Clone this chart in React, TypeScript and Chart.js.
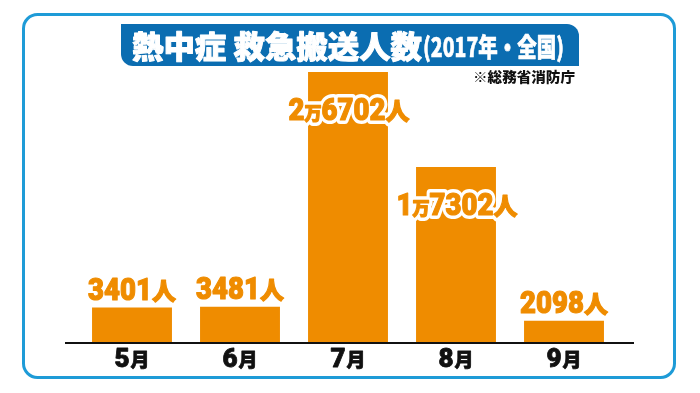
import React, { useEffect, useRef } from "react";
import { Chart, registerables } from "chart.js";

Chart.register(...registerables);

const months = ["5月", "6月", "7月", "8月", "9月"];
const patients = [3401, 3481, 26702, 17302, 2098];
const titleMain = "熱中症 救急搬送人数";
const titleSub = "(2017年・全国)";
const sourceNote = "※総務省消防庁";
const yMax = 27700;

const ORANGE = "#EF8C00";
const BANNER = "#0B6DB1";
const BORDER = "#1E9BD7";
const JP = '"Noto Sans CJK JP", "Noto Sans", sans-serif';
const NUM = 'Roboto, "Noto Sans", sans-serif';

function roundRectPath(ctx: CanvasRenderingContext2D, x: number, y: number, w: number, h: number, r: [number, number, number, number]) {
  const [tl, tr, br, bl] = r;
  ctx.beginPath();
  ctx.moveTo(x + tl, y);
  ctx.lineTo(x + w - tr, y);
  ctx.arcTo(x + w, y, x + w, y + tr, tr);
  ctx.lineTo(x + w, y + h - br);
  ctx.arcTo(x + w, y + h, x + w - br, y + h, br);
  ctx.lineTo(x + bl, y + h);
  ctx.arcTo(x, y + h, x, y + h - bl, bl);
  ctx.lineTo(x, y + tl);
  ctx.arcTo(x, y, x + tl, y, tl);
  ctx.closePath();
}

type Part = { text: string; font: string; sx: number };

function drawParts(ctx: CanvasRenderingContext2D, parts: Part[], cx: number, baseline: number, fill: string, stroke?: string, strokeW = 0, heavy = 0) {
  const widths = parts.map((p) => {
    ctx.font = p.font;
    return ctx.measureText(p.text).width * p.sx;
  });
  const total = widths.reduce((a, b) => a + b, 0);
  let x = cx - total / 2;
  ctx.textBaseline = "alphabetic";
  ctx.textAlign = "left";
  const passes: Array<"stroke" | "fill"> = stroke ? ["stroke", "fill"] : ["fill"];
  for (const pass of passes) {
    x = cx - total / 2;
    parts.forEach((p, i) => {
      ctx.save();
      ctx.font = p.font;
      ctx.translate(x, baseline);
      ctx.scale(p.sx, 1);
      ctx.lineJoin = "round";
      if (pass === "stroke" && stroke) {
        ctx.strokeStyle = stroke;
        ctx.lineWidth = strokeW + heavy;
        ctx.strokeText(p.text, 0, 0);
      } else {
        ctx.fillStyle = fill;
        ctx.fillText(p.text, 0, 0);
        if (heavy > 0) {
          ctx.strokeStyle = fill;
          ctx.lineWidth = heavy;
          ctx.strokeText(p.text, 0, 0);
        }
      }
      ctx.restore();
      x += widths[i];
    });
  }
}

function valueParts(v: number): Part[] {
  const digitFont = `900 32px ${NUM}`;
  const parts: Part[] = [];
  const man = Math.floor(v / 10000);
  const rest = v % 10000;
  if (man > 0) {
    parts.push({ text: String(man), font: digitFont, sx: 0.86 });
    parts.push({ text: "万", font: `900 18px ${JP}`, sx: 0.95 });
    parts.push({ text: String(rest).padStart(4, "0"), font: digitFont, sx: 0.86 });
  } else {
    parts.push({ text: String(rest), font: digitFont, sx: 0.86 });
  }
  parts.push({ text: "人", font: `900 24px ${JP}`, sx: 1.0 });
  return parts;
}

function fitText(ctx: CanvasRenderingContext2D, text: string, font: string, x: number, y: number, width: number, color: string, heavy = 0) {
  ctx.save();
  ctx.font = font;
  const w = ctx.measureText(text).width;
  const s = width / w;
  ctx.translate(x, y);
  ctx.scale(s, 1);
  ctx.fillStyle = color;
  ctx.textAlign = "left";
  ctx.textBaseline = "middle";
  ctx.fillText(text, 0, 0);
  if (heavy > 0) {
    ctx.strokeStyle = color;
    ctx.lineWidth = heavy;
    ctx.lineJoin = "round";
    ctx.strokeText(text, 0, 0);
  }
  ctx.restore();
}

const decorPlugin = {
  id: "decor",
  beforeDraw(chart: any) {
    const ctx: CanvasRenderingContext2D = chart.ctx;
    ctx.save();
    ctx.fillStyle = "#ffffff";
    ctx.fillRect(0, 0, chart.width, chart.height);
    // outer border
    roundRectPath(ctx, 23.5, 14.5, 651, 363, [14, 14, 14, 14]);
    ctx.strokeStyle = BORDER;
    ctx.lineWidth = 3;
    ctx.stroke();
    // title banner
    roundRectPath(ctx, 121, 24, 458, 42, [0, 12, 0, 12]);
    ctx.fillStyle = BANNER;
    ctx.fill();
    fitText(ctx, titleMain, `900 31px ${JP}`, 132, 46, 290, "#ffffff", 1);
    fitText(ctx, titleSub, `900 26px ${JP}`, 423, 47, 141, "#ffffff", 0.6);
    fitText(ctx, sourceNote, `900 14px ${JP}`, 473, 77, 102, "#111111");
    ctx.restore();
  },
  afterDatasetsDraw(chart: any) {
    const ctx: CanvasRenderingContext2D = chart.ctx;
    const area = chart.chartArea;
    ctx.save();
    // axis line
    ctx.strokeStyle = "#111111";
    ctx.lineWidth = 2;
    ctx.beginPath();
    ctx.moveTo(65, area.bottom + 1);
    ctx.lineTo(634, area.bottom + 1);
    ctx.stroke();

    const meta = chart.getDatasetMeta(0);
    const xScale = chart.scales.x;
    meta.data.forEach((bar: any, i: number) => {
      const v = patients[i];
      const top = bar.y;
      const h = bar.base - bar.y;
      const parts = valueParts(v);
      if (h > 100) {
        drawParts(ctx, parts, bar.x + 1, top + 48, ORANGE, "#ffffff", 7, 1.2);
      } else {
        drawParts(ctx, parts, bar.x, top - 8, ORANGE, undefined, 0, 1.2);
      }
      // x labels
      const label = months[i];
      const num = label.replace("月", "");
      const xc = xScale.getPixelForValue(i);
      drawParts(
        ctx,
        [
          { text: num, font: `900 26px ${NUM}`, sx: 1 },
          { text: " ", font: `bold 5px ${JP}`, sx: 1 },
          { text: "月", font: `900 19px ${JP}`, sx: 1 },
        ],
        xc,
        367,
        "#111111",
        undefined,
        0,
        0.8
      );
    });
    ctx.restore();
  },
};

export default function App() {
  const ref = useRef<HTMLCanvasElement | null>(null);
  useEffect(() => {
    if (!ref.current) return;
    const chart = new Chart(ref.current, {
      type: "bar",
      data: {
        labels: months,
        datasets: [
          {
            data: patients,
            backgroundColor: ORANGE,
            borderWidth: 0,
            barPercentage: 0.74,
            categoryPercentage: 1,
          },
        ],
      },
      options: {
        responsive: false,
        animation: false,
        devicePixelRatio: 1,
        layout: { padding: { left: 78, right: 82, top: 62, bottom: 51 } },
        plugins: { legend: { display: false }, tooltip: { enabled: false } },
        scales: {
          x: { display: false },
          y: { display: false, min: 0, max: yMax },
        },
      },
      plugins: [decorPlugin],
    });
    return () => chart.destroy();
  }, []);
  return (
    <div style={{ position: "fixed", left: 0, top: 0, width: 700, height: 393, background: "#fff" }}>
      <canvas ref={ref} width={700} height={393} style={{ width: 700, height: 393, display: "block" }} />
    </div>
  );
}
